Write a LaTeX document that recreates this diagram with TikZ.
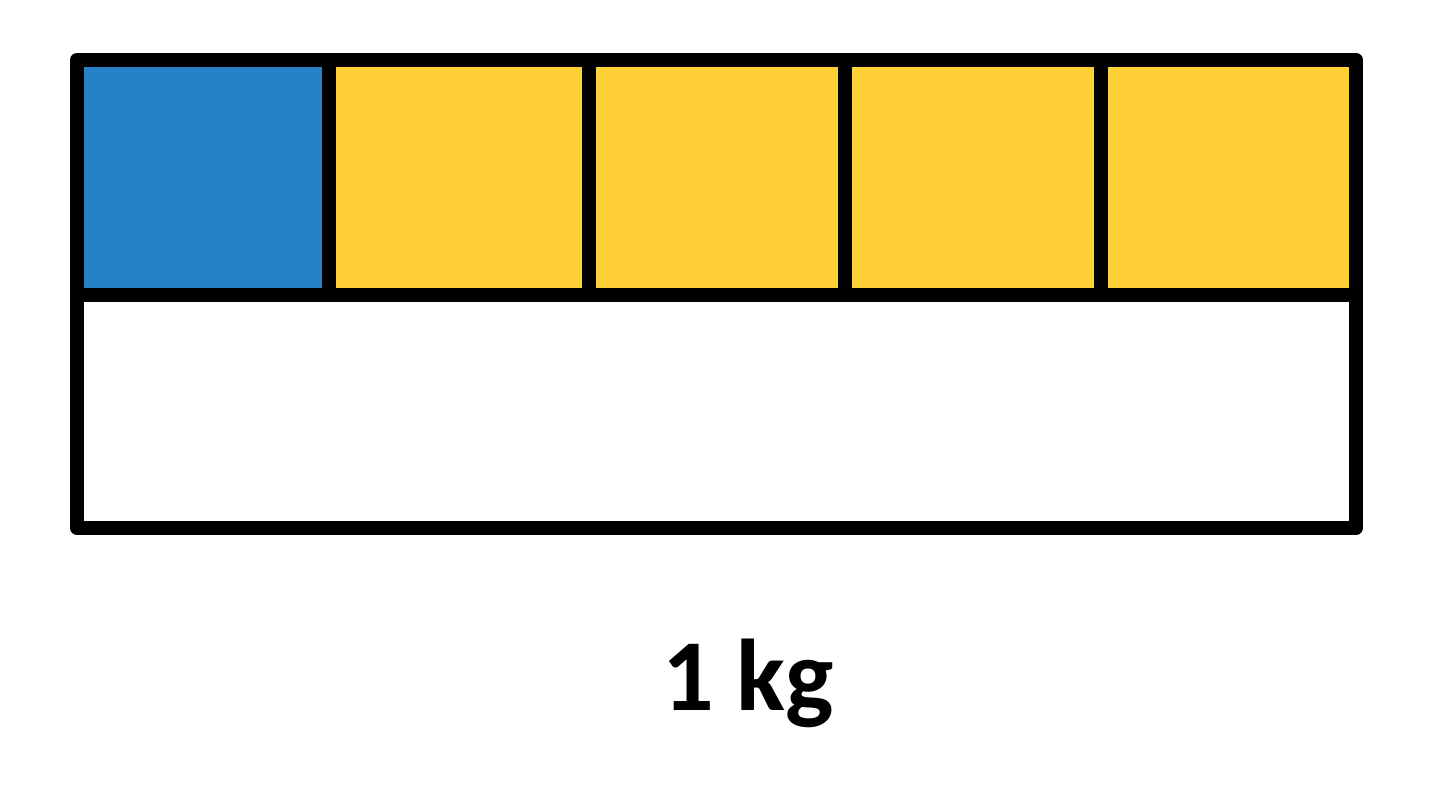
\documentclass[tikz,border=0pt]{standalone}
\usepackage{fontspec}
\setmainfont{Carlito}
\definecolor{partblue}{HTML}{2682C6}
\definecolor{partyellow}{HTML}{FFCF36}

\begin{document}
\begin{tikzpicture}[line width=0.14cm, line join=round]
  \useasboundingbox (0,0) rectangle (14.38,8.12);
  % Define bar edges
  \def\xl{0.77}
  \def\xr{13.56}
  \def\yt{7.52}
  \def\ym{5.17}
  \def\yb{2.84}

  % --- Parts (top row) ---
  \fill[partblue] (\xl,\ym) rectangle (3.29,\yt);
  \fill[partyellow] (3.29,\ym) rectangle (\xr,\yt);

  % --- Outline and dividers ---
  \draw (\xl,\yb) rectangle (\xr,\yt);
  \draw (\xl,\ym) -- (\xr,\ym);
  \foreach \x in {3.29,5.89,8.45,11.01} {
    \draw (\x,\ym) -- (\x,\yt);
  }

  % --- Whole ---
  \node[anchor=base, font=\bfseries\fontsize{29}{29}\selectfont] (whole) at (7.48,1.01) {1 kg};
\end{tikzpicture}
\end{document}
